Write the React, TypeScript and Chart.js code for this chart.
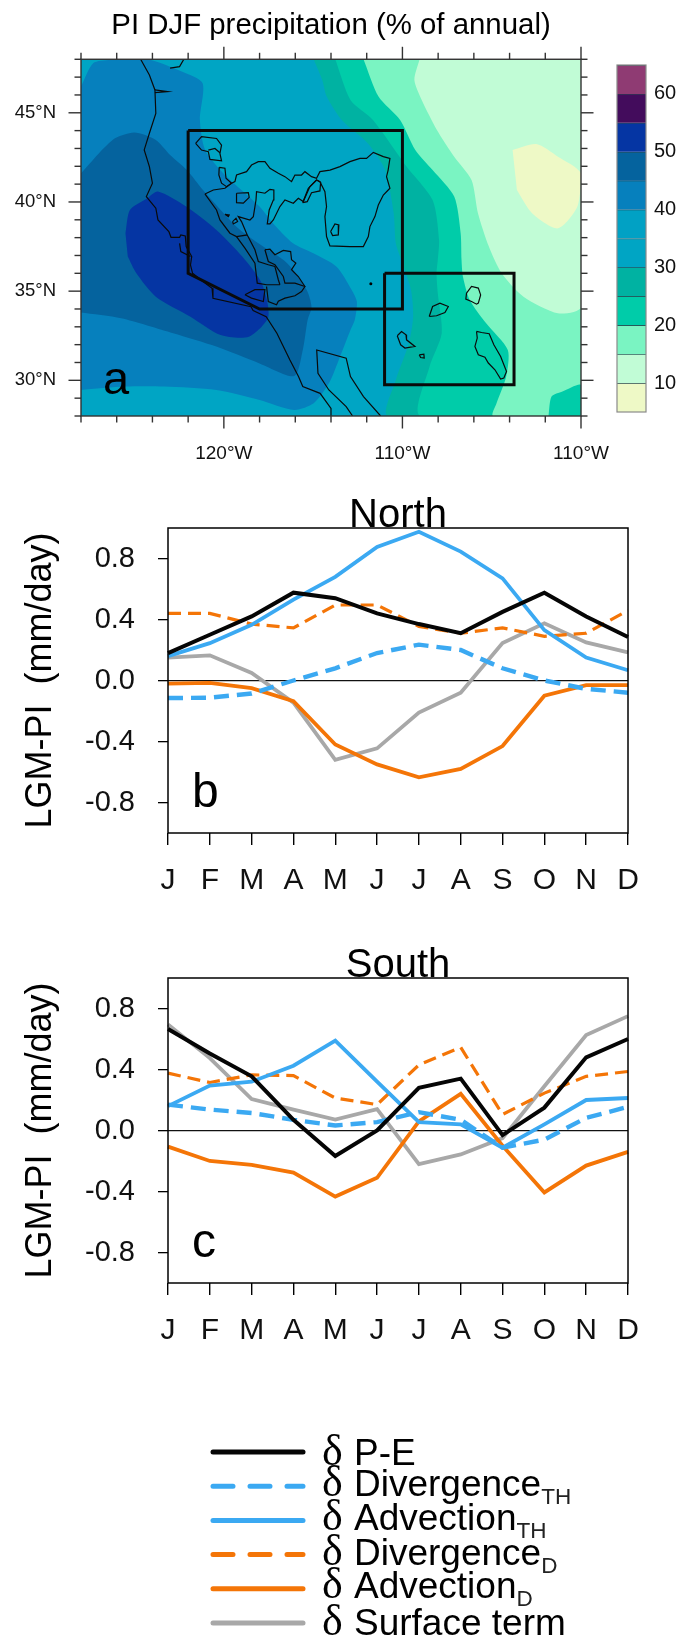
import React, { useEffect, useRef } from "react";
import { Chart, registerables } from "chart.js";

Chart.register(...registerables);

const FONT = '"Liberation Sans", Arial, sans-serif';
const PAGE_W = 678;

// ---------- Panel b / c data ----------
const months = ["J", "F", "M", "A", "M", "J", "J", "A", "S", "O", "N", "D"];
const lineTicks = [-0.8, -0.4, 0, 0.4, 0.8];

const northPE = [0.18, 0.3, 0.42, 0.576, 0.54, 0.44, 0.37, 0.31, 0.45, 0.576, 0.42, 0.285];
const northDivTH = [-0.115, -0.113, -0.085, 0, 0.08, 0.18, 0.235, 0.2, 0.08, 0, -0.055, -0.08];
const northAdvTH = [0.16, 0.245, 0.365, 0.53, 0.68, 0.875, 0.975, 0.845, 0.67, 0.33, 0.15, 0.067];
const northDivD = [0.44, 0.44, 0.37, 0.345, 0.495, 0.495, 0.355, 0.31, 0.345, 0.29, 0.31, 0.46];
const northAdvD = [-0.02, -0.015, -0.05, -0.135, -0.42, -0.55, -0.635, -0.58, -0.43, -0.1, -0.03, -0.03];
const northSurf = [0.15, 0.165, 0.05, -0.145, -0.52, -0.445, -0.21, -0.08, 0.245, 0.375, 0.25, 0.185];

const southPE = [0.665, 0.505, 0.355, 0.07, -0.167, 0.0, 0.28, 0.34, -0.03, 0.15, 0.48, 0.6];
const southDivTH = [0.17, 0.137, 0.115, 0.07, 0.033, 0.055, 0.12, 0.07, -0.113, -0.06, 0.083, 0.155];
const southAdvTH = [0.16, 0.295, 0.32, 0.425, 0.59, 0.32, 0.055, 0.04, -0.113, 0.04, 0.2, 0.213];
const southDivD = [0.376, 0.315, 0.365, 0.36, 0.213, 0.17, 0.43, 0.545, 0.105, 0.245, 0.355, 0.387];
const southAdvD = [-0.106, -0.2, -0.226, -0.276, -0.433, -0.31, 0.06, 0.24, -0.1, -0.406, -0.23, -0.14];
const southSurf = [0.695, 0.475, 0.206, 0.137, 0.072, 0.14, -0.22, -0.157, -0.05, 0.29, 0.626, 0.75];

const BLACK = "#050505";
const BLUE = "#3ba9f2";
const ORANGE = "#f47507";
const GREY = "#a8a8a8";

// ---------- Legend ----------
const legendRows = [0, 1, 2, 3, 4, 5];
const legendMain = ["P-E", "Divergence", "Advection", "Divergence", "Advection", "Surface term"];
const legendSub = ["", "TH", "TH", "D", "D", ""];

// ---------- Panel a data: colour levels, top to bottom of the colour bar ----------
const levelValues = [60, 55, 50, 45, 40, 35, 30, 25, 20, 15, 10, 5];
const levelColors = [
  "#8f3b73", "#430c5c", "#0535a3", "#05639e", "#0680bd", "#01a1c4",
  "#00a5c4", "#00b2a2", "#00cca9", "#7af4c2", "#c1fcd6", "#eef9c6",
];
const barTicks = [10, 20, 30, 40, 50, 60];

const lonLabelTicks = [-120, -110, -100];
const lonLabels = ["120°W", "110°W", "110°W"];
const latLabelTicks = [30, 35, 40, 45];
const lonMinor = [-128, -126, -124, -122, -118, -116, -114, -112, -108, -106, -104, -102];
const latMinor = [28, 29, 31, 32, 33, 34, 36, 37, 38, 39, 41, 42, 43, 44, 46, 47, 48];

type P = [number, number];

// contour regions [lon, lat]
const region40: P[] = [[-128,46.47],[-127.32,47.78],[-126.35,47.96],[-124.29,48],[-122.36,47.31],[-121.19,46.65],[-121.34,44.6],[-121.05,42.92],[-119.93,41.51],[-118,39.74],[-117.25,38.8],[-116.13,37.68],[-114.99,37.12],[-113.69,36.37],[-112.84,35.07],[-112.55,34.41],[-112.67,33.38],[-112.91,32.82],[-113.64,30.95],[-114.12,29.83],[-114.97,28.71],[-116.06,28.34],[-118,28.9],[-120.42,29.46],[-123.33,29.65],[-125.51,29.65],[-128,29.46]];
const region45: P[] = [[-128,41.61],[-126.23,43.48],[-125.02,43.89],[-123.81,43.48],[-123.01,42.64],[-122.07,41.79],[-121.17,40.67],[-119.28,38.6],[-118.09,37.7],[-116.47,36.58],[-115.36,35.07],[-115.09,34.11],[-115.31,33.38],[-115.58,31.7],[-116.06,30.24],[-118,30.95],[-120.42,31.89],[-122.84,32.64],[-125.75,33.48],[-128,33.8]];
const region50: P[] = [[-125.51,38.24],[-125.26,39.55],[-124.29,40.21],[-123.69,40.58],[-122.11,39.74],[-120.42,38.43],[-118.97,36.94],[-117.88,35.44],[-117.51,33.57],[-118.6,32.45],[-120.18,32.54],[-121.87,33.57],[-123.81,34.69],[-124.9,36],[-125.38,36.94]];
const region25: P[] = [[-114.97,48],[-114.49,46.84],[-114.24,45.91],[-113.4,44.6],[-111.94,43.29],[-110.97,41.79],[-110.49,39.37],[-110.37,37.68],[-110,36.56],[-109.52,35.07],[-109.4,33.57],[-109.64,32.08],[-110.37,30.02],[-110.8,28],[-100,28],[-100,48]];
const region20: P[] = [[-113.76,48],[-112.91,45.72],[-111.65,44.6],[-109.76,41.98],[-108.31,40.11],[-107.95,37.87],[-108.02,36.75],[-108.09,36],[-108.02,34.88],[-107.8,32.64],[-108.48,30.77],[-108.99,28],[-100,28],[-100,48]];
const region15: P[] = [[-112.18,48],[-111.34,45.91],[-110.13,44.6],[-109.28,42.92],[-108.31,41.79],[-107.1,40.3],[-106.74,38.24],[-106.69,36.75],[-106.61,35.81],[-106.23,34.51],[-105.31,33.2],[-104.1,31.7],[-104.19,30.21],[-104.73,28.71],[-104.92,28],[-100,28],[-100,48]];
const region20corner: P[] = [[-101.82,28],[-101.65,29.09],[-101.04,29.37],[-100,29.74],[-100,28]];
const region10: P[] = [[-109.04,48],[-109.33,46.84],[-108.92,45.72],[-108.07,44.04],[-107.1,42.54],[-106.13,41.23],[-105.77,39.37],[-105.16,37.5],[-104.44,36],[-103.22,34.69],[-101.29,33.76],[-100,34.13],[-100,48]];
const region5: P[] = [[-103.83,42.92],[-102.5,43.25],[-101.29,42.54],[-100,41.61],[-100.2,39.74],[-101.29,38.52],[-102.74,39.37],[-103.59,40.67]];
const regionAll: P[] = [[-128,28],[-100,28],[-100,48],[-128,48]];

// outlines
const coast: P[] = [[-124.66,48],[-124.17,47.12],[-123.86,46.28],[-123.81,44.97],[-124.17,43.85],[-124.46,42.92],[-124.17,41.98],[-124,41.05],[-124.34,40.3],[-123.81,39.65],[-123.69,38.99],[-123.08,38.34],[-122.96,38.02],[-122.48,38.02],[-122.41,38.15],[-122.16,38.09],[-122.11,37.5],[-121.8,36.94],[-121.87,36.47],[-121.75,36],[-121.15,35.53],[-120.66,35.16],[-120.61,34.6],[-118.48,34.13],[-118.36,33.91],[-117.63,33.57],[-117.03,32.64],[-116.3,31.14],[-115.82,30.21],[-115.58,29.65],[-114.61,29.27],[-114,28.43],[-114,28]];
const baja: P[] = [[-112.79,28],[-113.15,28.53],[-114.12,29.46],[-114.73,30.39],[-114.8,31.7],[-113.15,31.24],[-112.91,30.21],[-112.18,29.09],[-111.22,28]];
const puget: P[] = [[-123.01,47.5],[-122.48,47.59],[-122.24,48]];
const columbia: P[] = [[-123.86,46.28],[-123.16,46.19],[-123.86,46.13]];
const bay: P[] = [[-122.48,37.68],[-122.41,37.22],[-121.87,36.94]];
const bigBasin: P[] = [[-121.06,40.45],[-120.59,40.67],[-119.94,40.77],[-119.57,41.05],[-119.38,41.14],[-119.29,41.51],[-118.73,41.7],[-118.45,42.07],[-118.07,42.26],[-117.7,42.26],[-117.42,41.89],[-116.95,41.61],[-116.58,41.42],[-116.21,41.14],[-116.02,41.51],[-115.65,41.51],[-115.46,41.7],[-115.09,41.42],[-114.81,41.33],[-114.62,41.7],[-114.06,41.79],[-113.5,41.98],[-112.94,42.26],[-112.38,42.44],[-112.01,42.44],[-111.63,42.78],[-111.07,42.54],[-110.7,42.44],[-110.8,41.79],[-110.89,41.42],[-110.7,40.77],[-111.07,40.39],[-111.35,39.83],[-111.54,39.18],[-111.82,38.62],[-111.91,38.06],[-112.19,37.5],[-112.94,37.5],[-114.06,37.54],[-114.25,38.06],[-114.34,39.18],[-114.25,39.74],[-114.34,40.58],[-114.62,41.14],[-114.81,41.23],[-115.18,40.86],[-115.55,40.02],[-115.83,40.21],[-116.11,39.93],[-116.58,40.11],[-116.86,39.74],[-117.23,38.99],[-117.42,38.77],[-117.57,38.77],[-117.46,39.55],[-117.23,40.11],[-117.2,40.67],[-117.42,40.71],[-117.7,40.49],[-118.17,40.58],[-118.2,40.11],[-118.35,39.18],[-118.54,38.99],[-119.19,39.18],[-119.01,38.9],[-118.69,38.15],[-119.29,38.06],[-119.66,38.25],[-120.22,38.99],[-120.41,39.55],[-121.06,40.45]];
const lakeA: P[] = [[-115.59,39.96],[-115.27,40.77],[-114.81,41.23],[-114.58,41.1],[-114.62,40.62],[-115.09,40.52],[-115.33,40.02],[-115.59,39.96]];
const lakeB: P[] = [[-114.02,38.34],[-113.78,38.77],[-113.56,38.71],[-113.59,38.15],[-113.91,38.12],[-114.02,38.34]];
const blobNW: P[] = [[-121.58,43.28],[-121.25,43.66],[-120.41,43.56],[-120.13,43.19],[-120.22,42.72],[-120.13,42.31],[-120.78,42.39],[-120.87,42.82],[-121.25,42.91],[-121.58,43.28]];
const blobNWInner: P[] = [[-120.87,42.91],[-120.5,43],[-120.22,42.76]];
const blobC: P[] = [[-120.26,41.94],[-119.94,41.89],[-119.88,41.33],[-119.57,41.05],[-119.85,40.86],[-120.13,41.05],[-120.28,41.51],[-120.26,41.94]];
const blobD: P[] = [[-119.29,40.49],[-118.63,40.52],[-118.58,40.26],[-118.91,39.93],[-119.29,39.96],[-119.29,40.49]];
const blobE: P[] = [[-119.94,39.31],[-119.7,39.27],[-119.75,39.18],[-119.94,39.31]];
const blobF: P[] = [[-119.51,38.9],[-119.32,39.09],[-119.23,38.9],[-119.47,38.77],[-119.51,38.9]];
const south1: P[] = [[-119.29,38.06],[-118.82,37.41],[-118.26,36.57],[-118.13,35.45],[-117.61,35.36],[-116.86,35.36]];
const south2: P[] = [[-118.69,38.15],[-118.26,37.32],[-118.07,36.66],[-117.51,36.48],[-117.14,36.38],[-116.95,35.64],[-116.86,35.36]];
const south3: P[] = [[-117.7,37.32],[-117.51,36.66],[-117.14,36.48],[-116.67,35.82],[-116.58,35.45],[-116.02,35.45],[-115.46,35.26],[-115.65,34.98],[-116.02,34.74],[-116.58,34.61],[-116.95,34.43],[-117.05,34.24],[-117.51,34.42],[-117.61,35.26]];
const south4: P[] = [[-117.7,37.32],[-117.42,37.35],[-117.14,37.04],[-116.67,37.28],[-116.26,37.22],[-116.21,36.76],[-115.97,36.57],[-116.21,36.2],[-115.83,35.82],[-115.46,35.26]];
const salton: P[] = [[-118.82,34.8],[-118.26,35.08],[-117.7,35.08],[-117.79,34.42],[-118.45,34.61],[-118.82,34.8]];
const islandA: P[] = [[-106.41,34.89],[-106.13,35.26],[-105.75,35.17],[-105.62,34.79],[-105.75,34.33],[-105.85,34.27],[-106.13,34.42],[-106.45,34.55],[-106.41,34.89]];
const islandB: P[] = [[-108.5,33.58],[-108.31,34.14],[-107.9,34.33],[-107.43,34.14],[-107.62,33.8],[-108.09,33.62],[-108.5,33.58]];
const islandC: P[] = [[-110.29,32.5],[-110.05,32.74],[-109.8,32.55],[-109.77,32.27],[-109.3,31.9],[-109.86,31.81],[-110.1,31.99],[-110.29,32.5]];
const islandD: P[] = [[-109.06,31.43],[-108.8,31.47],[-108.78,31.25],[-108.98,31.28],[-109.06,31.43]];
const islandE: P[] = [[-105.85,32.74],[-105.57,32.68],[-105.14,32.61],[-104.88,31.99],[-104.5,31.34],[-104.17,30.5],[-104.32,30.13],[-104.5,30.07],[-104.82,30.59],[-105.19,30.97],[-105.38,31.3],[-105.75,31.43],[-105.94,31.9],[-105.81,32.37],[-105.85,32.74]];
const outlines: P[][] = [coast, baja, puget, columbia, bay, bigBasin, lakeA, lakeB, blobNW, blobNWInner, blobC, blobD, blobE, blobF, south1, south2, south3, south4, salton, islandA, islandB, islandC, islandD, islandE];
const dotPoint: P[] = [[-111.77, 35.41]];
const boxNorth: P[] = [[-122,44],[-110,44],[-110,34],[-118,34],[-122,36],[-122,44]];
const boxSouth: P[] = [[-111,36],[-103.75,36],[-103.75,29.75],[-111,29.75],[-111,36]];

const xy = (pts: P[]) => pts.map(([x, y]) => ({ x, y }));

// ---------- helpers ----------
const frame = (width: number, color = "#000") => ({
  id: "frame",
  afterDatasetsDraw(c: any) {
    const a = c.chartArea;
    const g = c.ctx;
    g.save();
    g.strokeStyle = color;
    g.lineWidth = width;
    g.strokeRect(a.left, a.top, a.right - a.left, a.bottom - a.top);
    g.restore();
  },
});

const letter = (t: string, x: number, y: number, size: number) => ({
  id: "letter",
  afterDraw(c: any) {
    const g = c.ctx;
    g.save();
    g.fillStyle = "#000";
    g.font = `${size}px ${FONT}`;
    g.textAlign = "left";
    g.textBaseline = "alphabetic";
    g.fillText(t, x, y);
    g.restore();
  },
});

const mapTicks = {
  id: "mapTicks",
  afterDatasetsDraw(c: any) {
    const g = c.ctx;
    const a = c.chartArea;
    const sx = c.scales.x;
    const sy = c.scales.y;
    g.save();
    g.strokeStyle = "#333";
    g.lineWidth = 1.4;
    const seg = (x1: number, y1: number, x2: number, y2: number) => {
      g.beginPath();
      g.moveTo(x1, y1);
      g.lineTo(x2, y2);
      g.stroke();
    };
    const doLon = (v: number, len: number) => {
      const x = sx.getPixelForValue(v);
      seg(x, a.top, x, a.top - len);
      seg(x, a.bottom, x, a.bottom + len);
    };
    const doLat = (v: number, len: number) => {
      const y = sy.getPixelForValue(v);
      seg(a.left, y, a.left - len, y);
      seg(a.right, y, a.right + len, y);
    };
    lonMinor.forEach((v) => doLon(v, 6.5));
    lonLabelTicks.forEach((v) => doLon(v, 12.5));
    latMinor.forEach((v) => doLat(v, 6.5));
    latLabelTicks.forEach((v) => doLat(v, 12.5));
    g.restore();
  },
};

function useChart(build: () => any) {
  const ref = useRef<HTMLCanvasElement | null>(null);
  useEffect(() => {
    const chart = new Chart(ref.current as HTMLCanvasElement, build());
    return () => chart.destroy();
  }, []);
  return ref;
}

// ---------- Panel a ----------
function mapConfig() {
  const fillSet = (pts: P[], color: string) => ({
    data: xy(pts),
    showLine: true,
    fill: "shape",
    backgroundColor: color,
    borderColor: color,
    borderWidth: 0,
    pointRadius: 0,
    tension: 0.25,
  });
  const lineSet = (pts: P[], w: number) => ({
    data: xy(pts),
    showLine: true,
    fill: false,
    borderColor: "#0a0a0a",
    borderWidth: w,
    pointRadius: 0,
    tension: 0,
    borderJoinStyle: "miter",
  });
  const c = (v: number) => levelColors[levelValues.indexOf(v)];
  return {
    type: "scatter",
    data: {
      datasets: [
        lineSet(boxNorth, 3),
        lineSet(boxSouth, 3),
        { data: xy(dotPoint), pointRadius: 1.5, backgroundColor: "#000", borderWidth: 0 },
        ...outlines.map((o) => lineSet(o, 1.2)),
        fillSet(region5, c(5)),
        fillSet(region10, c(10)),
        fillSet(region20corner, c(20)),
        fillSet(region15, c(15)),
        fillSet(region20, c(20)),
        fillSet(region25, c(25)),
        fillSet(region50, c(50)),
        fillSet(region45, c(45)),
        fillSet(region40, c(40)),
        { ...fillSet(regionAll, c(30)), tension: 0 },
      ],
    },
    options: {
      responsive: false,
      animation: false,
      layout: { padding: { top: 8, left: 0, right: 97, bottom: 0 } },
      plugins: {
        legend: { display: false },
        tooltip: { enabled: false },
        title: {
          display: true,
          fullSize: false,
          text: "PI DJF precipitation (% of annual)",
          color: "#000",
          font: { family: FONT, size: 29.4, weight: "normal", lineHeight: 1.2 },
          padding: { top: 0, bottom: 16 },
        },
      },
      scales: {
        x: {
          type: "linear",
          min: -128,
          max: -100,
          afterBuildTicks(s: any) {
            s.ticks = lonLabelTicks.map((value) => ({ value }));
          },
          afterFit(s: any) {
            s.height = 470 - 416;
          },
          grid: { display: false, drawTicks: false },
          border: { display: false },
          ticks: {
            autoSkip: false,
            maxRotation: 0,
            minRotation: 0,
            padding: 26,
            color: "#111",
            font: { family: FONT, size: 19 },
            callback: (v: number) => lonLabels[lonLabelTicks.indexOf(v)],
          },
        },
        y: {
          type: "linear",
          min: 28,
          max: 48,
          afterBuildTicks(s: any) {
            s.ticks = latLabelTicks.map((value) => ({ value }));
          },
          afterFit(s: any) {
            s.width = 81;
          },
          grid: { display: false, drawTicks: false },
          border: { display: false },
          ticks: {
            autoSkip: false,
            padding: 25,
            color: "#111",
            font: { family: FONT, size: 18.5 },
            callback: (v: number) => `${v}°N`,
          },
        },
      },
    },
    plugins: [frame(1.4, "#333"), mapTicks, letter("a", 103, 394, 47)],
  };
}

// ---------- Colour bar ----------
function barConfig() {
  return {
    type: "bar",
    data: {
      labels: [""],
      datasets: levelValues.map((lv, i) => ({
        data: [[lv, lv + 5]],
        backgroundColor: levelColors[i],
        borderColor: "#2a4a50",
        borderWidth: { top: 1, bottom: 0, left: 0, right: 0 },
        borderSkipped: false,
        barPercentage: 1,
        categoryPercentage: 1,
      })),
    },
    options: {
      responsive: false,
      animation: false,
      layout: { padding: { top: 65, left: 17, right: 0, bottom: 28 } },
      plugins: { legend: { display: false }, tooltip: { enabled: false } },
      scales: {
        x: { display: false, stacked: true },
        y: {
          position: "right",
          stacked: false,
          min: 5,
          max: 65,
          afterBuildTicks(s: any) {
            s.ticks = barTicks.map((value) => ({ value }));
          },
          afterFit(s: any) {
            s.width = 32;
          },
          grid: { display: false, drawTicks: false },
          border: { display: false },
          ticks: {
            padding: 8,
            color: "#111",
            font: { family: FONT, size: 20 },
            callback: (v: number) => String(v),
          },
        },
      },
    },
    plugins: [frame(1.2, "#8a8a8a")],
  };
}

// ---------- Panels b, c ----------
function lineConfig(
  title: string,
  pe: number[],
  divTH: number[],
  advTH: number[],
  divD: number[],
  advD: number[],
  surf: number[],
  mark: string,
  markSize: number,
) {
  const ds = (data: number[], color: string, width: number, dash: number[] = []) => ({
    data,
    borderColor: color,
    backgroundColor: color,
    borderWidth: width,
    borderDash: dash,
    pointRadius: 0,
    tension: 0,
    fill: false,
    clip: 2,
  });
  return {
    type: "line",
    data: {
      labels: months,
      datasets: [
        ds(pe, BLACK, 4),
        ds(advTH, BLUE, 3.8),
        ds(divTH, BLUE, 4.4, [15, 8]),
        ds(advD, ORANGE, 3.8),
        ds(divD, ORANGE, 3.2, [13, 7]),
        ds(surf, GREY, 3.8),
      ],
    },
    options: {
      responsive: false,
      animation: false,
      layout: { padding: { top: 24, left: 0, right: 50, bottom: 0 } },
      plugins: {
        legend: { display: false },
        tooltip: { enabled: false },
        title: {
          display: true,
          fullSize: false,
          text: title,
          color: "#000",
          font: { family: FONT, size: 40, weight: "normal", lineHeight: 0.6 },
          padding: { top: 0, bottom: 0 },
        },
      },
      scales: {
        x: {
          offset: false,
          afterFit(s: any) {
            s.height = 87;
          },
          grid: { drawOnChartArea: false, drawTicks: true, tickLength: 12, color: "#000", lineWidth: 1.4, offset: false },
          border: { display: false },
          ticks: {
            autoSkip: false,
            maxRotation: 0,
            minRotation: 0,
            padding: 18,
            color: "#111",
            font: { family: FONT, size: 30 },
          },
        },
        y: {
          min: -1,
          max: 1,
          afterBuildTicks(s: any) {
            s.ticks = lineTicks.map((value) => ({ value }));
          },
          afterFit(s: any) {
            s.width = 168;
          },
          title: {
            display: true,
            text: "LGM-PI  (mm/day)",
            color: "#000",
            font: { family: FONT, size: 36, lineHeight: 1 },
            padding: { top: 23, bottom: 0 },
          },
          grid: {
            drawOnChartArea: true,
            drawTicks: true,
            tickLength: 10,
            lineWidth: 1.3,
            color: (ctx: any) => (ctx.tick && ctx.tick.value === 0 ? "#111" : "rgba(0,0,0,0)"),
            tickColor: "#000",
          },
          border: { display: false },
          ticks: {
            padding: 23,
            color: "#111",
            font: { family: FONT, size: 29 },
            callback: (v: number) => v.toFixed(1),
          },
        },
      },
    },
    plugins: [frame(1.5), letter(mark, 192, 327, markSize)],
  };
}

// ---------- Legend ----------
const legendText = {
  id: "legendText",
  afterDraw(c: any) {
    const g = c.ctx;
    const sy = c.scales.y;
    const offsets = [13, 10, 10, 10, 9, 12];
    g.save();
    g.fillStyle = "#000";
    g.textBaseline = "alphabetic";
    legendRows.forEach((r, i) => {
      const y = sy.getPixelForValue(r) + offsets[i];
      g.font = `44px "Liberation Serif", serif`;
      g.fillText("δ", 322, y);
      g.font = `37px ${FONT}`;
      const x = 354;
      g.fillText(legendMain[i], x, y);
      const w = g.measureText(legendMain[i]).width;
      if (legendSub[i]) {
        g.font = `22.5px ${FONT}`;
        g.fillStyle = "#222";
        g.fillText(legendSub[i], x + w, y + 8);
        g.fillStyle = "#000";
      }
    });
    g.restore();
  },
};

function legendConfig() {
  const row = (r: number, color: string, dash: number[] = []) => ({
    data: [
      { x: 0, y: r },
      { x: 1, y: r },
    ],
    showLine: true,
    borderColor: color,
    borderWidth: 5,
    borderDash: dash,
    borderCapStyle: "round",
    pointRadius: 0,
    clip: false,
  });
  return {
    type: "scatter",
    data: {
      datasets: [
        row(legendRows[0], BLACK),
        row(legendRows[1], BLUE, [20, 17]),
        row(legendRows[2], BLUE),
        row(legendRows[3], ORANGE, [20, 17]),
        row(legendRows[4], ORANGE),
        row(legendRows[5], GREY),
      ],
    },
    options: {
      responsive: false,
      animation: false,
      layout: { padding: { top: 22, left: 213, right: 375, bottom: 17 } },
      plugins: { legend: { display: false }, tooltip: { enabled: false } },
      scales: {
        x: { display: false, type: "linear", min: 0, max: 1 },
        y: { display: false, type: "linear", min: 0, max: 5, reverse: true },
      },
    },
    plugins: [legendText],
  };
}

function Panel({ build, top, left = 0, width = PAGE_W, height }: any) {
  const ref = useChart(build);
  return (
    <canvas
      ref={ref}
      width={width}
      height={height}
      style={{ position: "absolute", left, top, width, height, display: "block" }}
    />
  );
}

export default function App() {
  return (
    <div style={{ position: "absolute", left: 0, top: 0, width: PAGE_W, height: 1640, background: "#fff", overflow: "hidden", filter: "blur(0.5px)" }}>
      <Panel build={mapConfig} top={0} height={470} />
      <Panel build={barConfig} top={0} left={600} width={78} height={440} />
      <Panel
        build={() => lineConfig("North", northPE, northDivTH, northAdvTH, northDivD, northAdvD, northSurf, "b", 48)}
        top={480}
        height={440}
      />
      <Panel
        build={() => lineConfig("South", southPE, southDivTH, southAdvTH, southDivD, southAdvD, southSurf, "c", 48)}
        top={930}
        height={440}
      />
      <Panel build={legendConfig} top={1430} height={210} />
    </div>
  );
}
